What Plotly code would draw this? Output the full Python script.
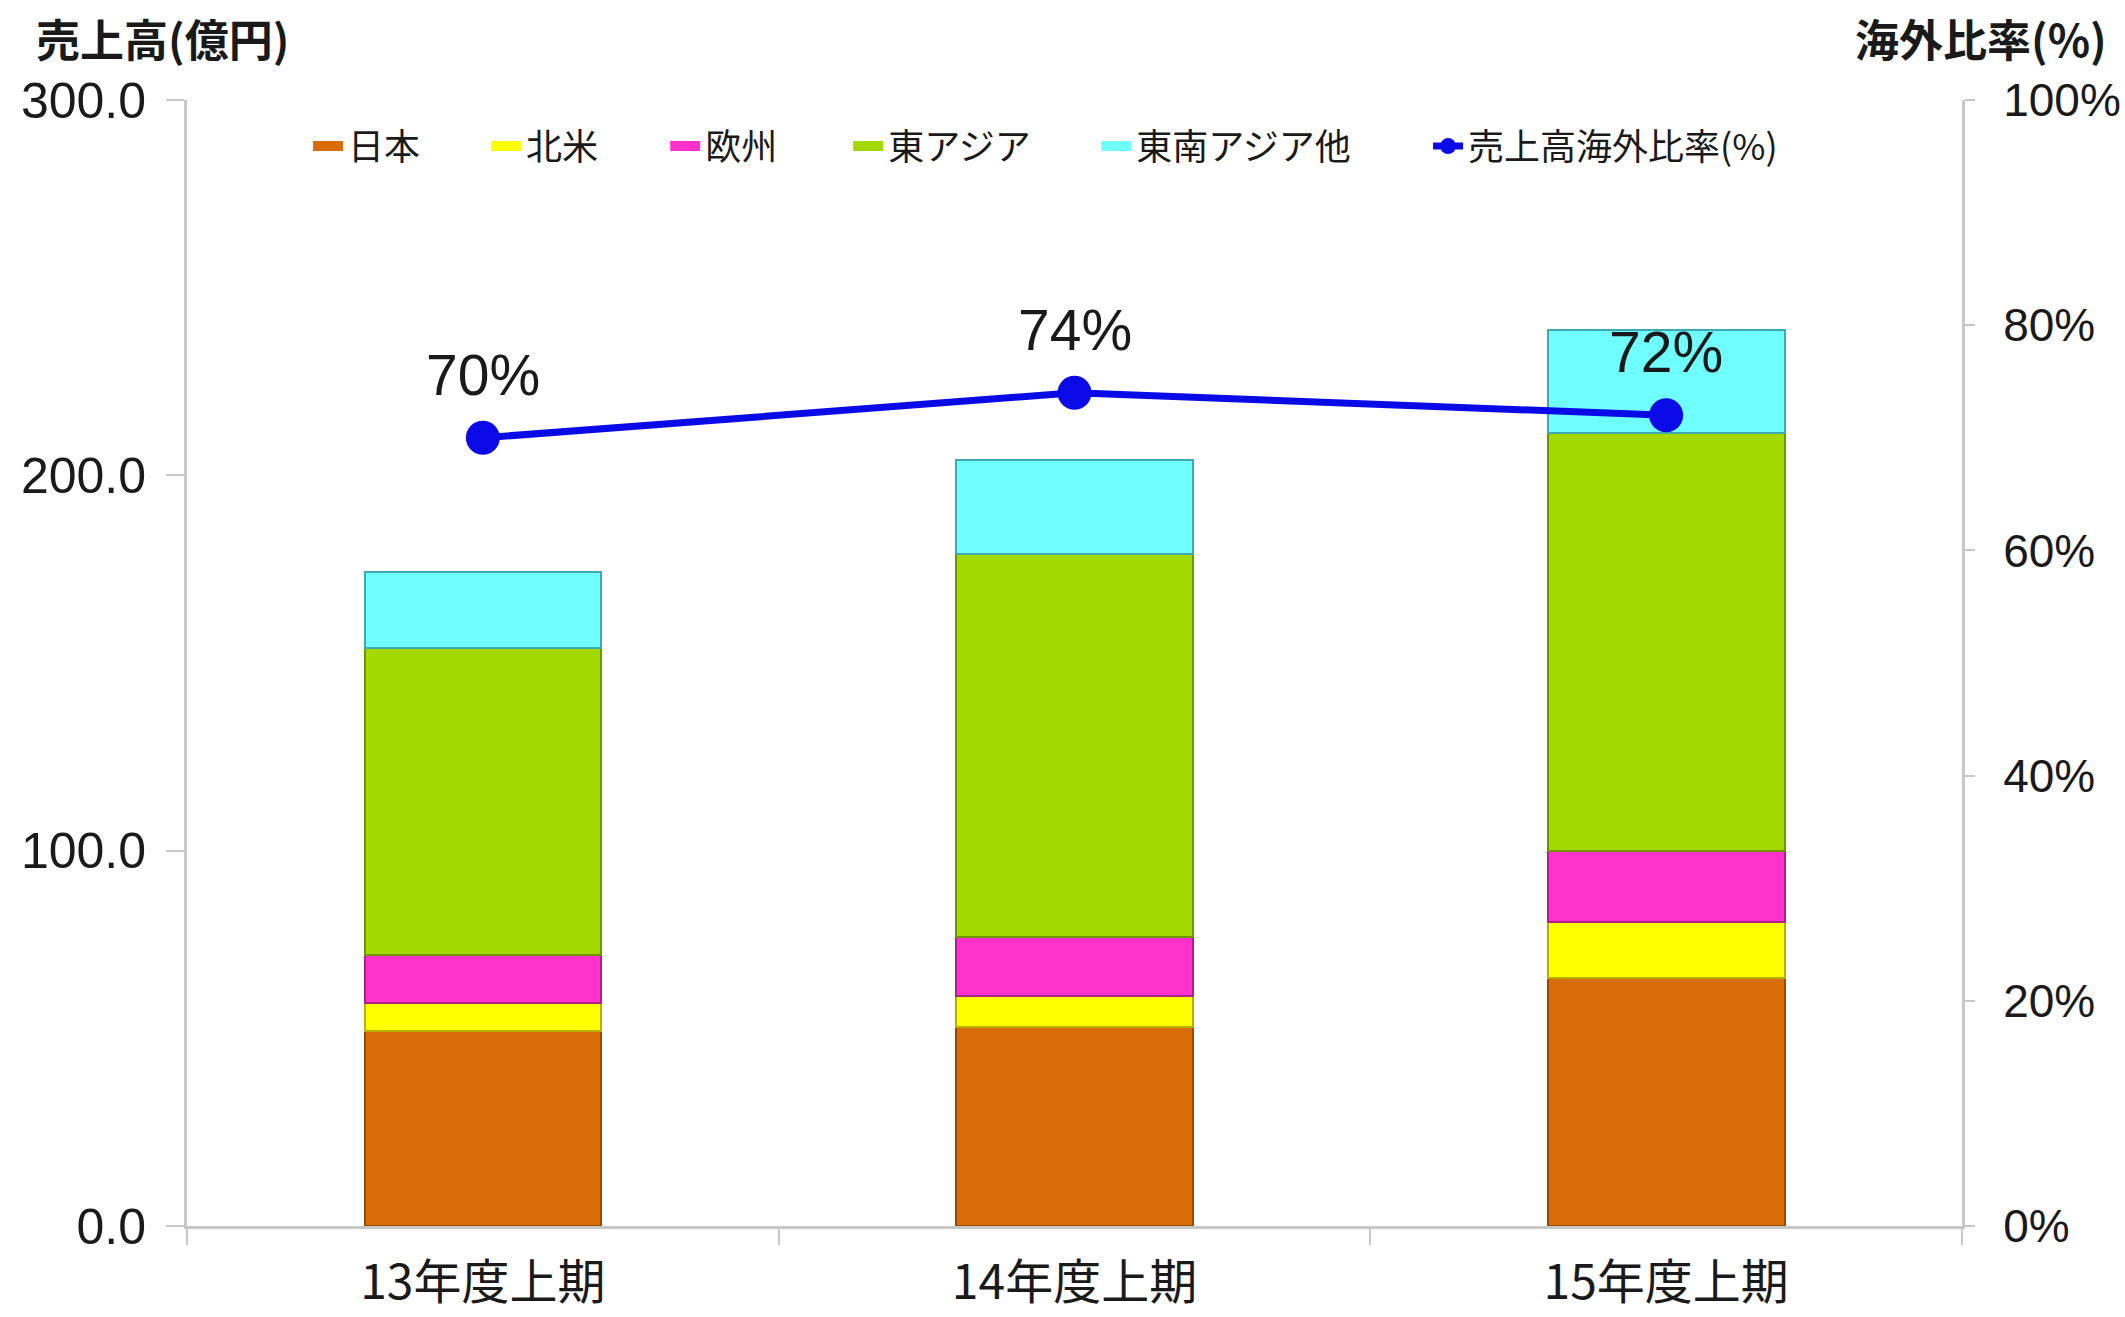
import plotly.graph_objects as go

categories = ["13年度上期", "14年度上期", "15年度上期"]
japan = [52.0, 53.0, 66.0]
north_america = [7.4, 8.4, 15.0]
europe = [12.8, 15.6, 19.0]
east_asia = [81.7, 102.0, 111.4]
se_asia = [20.3, 25.0, 27.2]
overseas_ratio = [0.70, 0.74, 0.72]
ratio_labels = ["70%", "74%", "72%"]
line_name = "売上高海外比率(%)"

series = [
    ("日本", japan, "#D96C06", "#9A4A05"),
    ("北米", north_america, "#FFFF00", "#B8B000"),
    ("欧州", europe, "#FF33CC", "#B0208C"),
    ("東アジア", east_asia, "#A3D900", "#6F9400"),
    ("東南アジア他", se_asia, "#70FFFF", "#3FAAB0"),
]
legend_x = [0.0682, 0.1685, 0.2694, 0.3725, 0.5122, 0.6992]

FONT = "Liberation Sans, Arial, Noto Sans CJK JP, sans-serif"
JFONT = "Noto Sans CJK JP, sans-serif"
LINE_COL = "#0A0AE6"

fig = go.Figure()
for i, (name, vals, col, lcol) in enumerate(series):
    fig.add_trace(go.Bar(
        x=categories, y=vals, name=name, showlegend=False,
        marker=dict(color=col, line=dict(color=lcol, width=2)),
    ))

fig.add_trace(go.Scatter(
    x=categories, y=overseas_ratio, name=line_name, showlegend=False,
    yaxis="y2", mode="lines+markers",
    line=dict(color=LINE_COL, width=7),
    marker=dict(color=LINE_COL, size=34),
))

# legend proxies (one legend each so spacing follows the reference)
for i, (name, vals, col, lcol) in enumerate(series):
    lg = "legend" if i == 0 else f"legend{i + 1}"
    fig.add_trace(go.Scatter(
        x=[None], y=[None], name=name, mode="lines", legend=lg,
        line=dict(color=col, width=20),
    ))
fig.add_trace(go.Scatter(
    x=[None], y=[None], name=line_name, mode="lines+markers", legend="legend6",
    yaxis="y2", line=dict(color=LINE_COL, width=7),
    marker=dict(color=LINE_COL, size=16),
))

legend_common = dict(
    orientation="h", yanchor="middle", xanchor="left", y=0.959,
    font=dict(size=36, family=JFONT, color="#1a1a1a"),
    bgcolor="rgba(0,0,0,0)",
)
legends = {}
for i, lx in enumerate(legend_x):
    key = "legend" if i == 0 else f"legend{i + 1}"
    legends[key] = dict(legend_common, x=lx)

annotations = [
    dict(text=f"{lab}", x=c, y=v, xref="x", yref="y2",
         yanchor="bottom", xanchor="center", yshift=29, showarrow=False,
         font=dict(size=57, family=FONT, color="#1a1a1a"))
    for c, v, lab in zip(categories, overseas_ratio, ratio_labels)
]
annotations += [
    dict(text="<b>売上高(億円)</b>", xref="paper", yref="paper",
         x=-0.0862, y=1.055, xanchor="left", yanchor="middle", showarrow=False,
         font=dict(size=44, family=JFONT, color="#1a1a1a")),
    dict(text="<b>海外比率(%)</b>", xref="paper", yref="paper",
         x=1.0830, y=1.055, xanchor="right", yanchor="middle", showarrow=False,
         font=dict(size=44, family=JFONT, color="#1a1a1a")),
]

fig.update_layout(
    width=2125, height=1317,
    margin=dict(l=187, r=163, t=100, b=91),
    paper_bgcolor="white", plot_bgcolor="white",
    barmode="stack", bargap=0.6,
    font=dict(family=FONT, color="#1a1a1a"),
    showlegend=True,
    xaxis=dict(
        type="category", showline=True, linecolor="#C8C8C8", linewidth=3,
        ticks="outside", tickson="boundaries", ticklen=16, tickcolor="#C8C8C8", tickwidth=2,
        tickfont=dict(size=48, family=JFONT, color="#1a1a1a"),
        ticklabelstandoff=12, showgrid=False, automargin=False,
    ),
    yaxis=dict(
        range=[0, 300], tickvals=[0, 100, 200, 300], tickformat=".1f",
        showline=True, linecolor="#C8C8C8", linewidth=3,
        ticks="outside", ticklen=18, tickcolor="#C8C8C8", tickwidth=2,
        tickfont=dict(size=50, color="#1a1a1a"), ticklabelstandoff=10,
        showgrid=False, zeroline=False, automargin=False,
    ),
    yaxis2=dict(
        range=[0, 1], tickvals=[0, 0.2, 0.4, 0.6, 0.8, 1.0], tickformat=".0%",
        overlaying="y", side="right",
        showline=True, linecolor="#C8C8C8", linewidth=3,
        ticks="outside", ticklen=10, tickcolor="#C8C8C8", tickwidth=2,
        tickfont=dict(size=46, color="#1a1a1a"), ticklabelstandoff=19,
        showgrid=False, zeroline=False, automargin=False,
    ),
    annotations=annotations,
    **legends,
)

fig.write_html(
    "out.html",
    config={"displayModeBar": False},
    post_script="document.body.style.margin='0';document.body.style.overflow='hidden';",
)
